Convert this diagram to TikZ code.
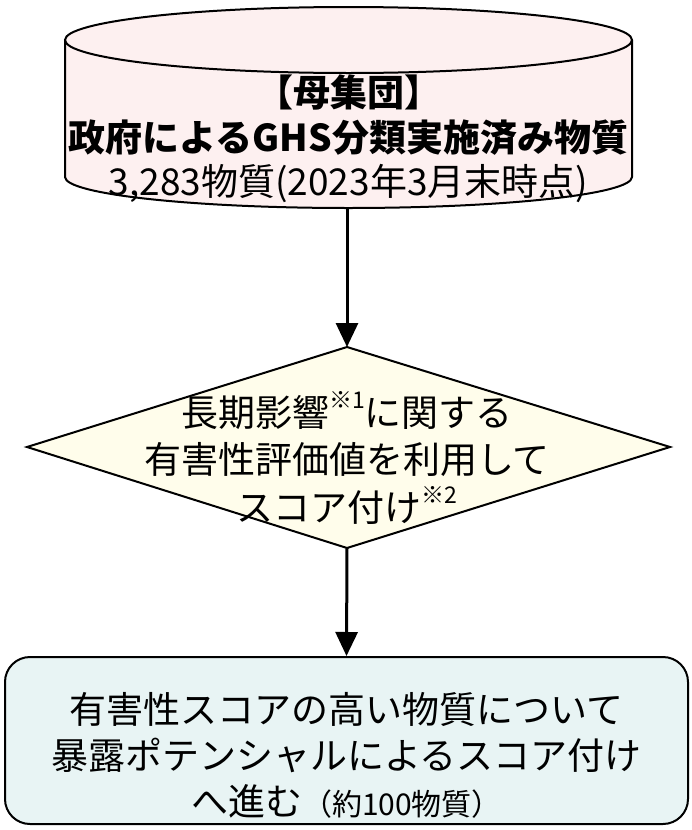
\documentclass[tikz,border=0pt]{standalone}
\usepackage{fontspec}
\setmainfont{Noto Sans CJK JP}
\usetikzlibrary{arrows.meta}
\definecolor{cylfill}{HTML}{FDF0F0}
\definecolor{diafill}{HTML}{FFFDEB}
\definecolor{boxfill}{HTML}{E8F4F4}
\newcommand{\supnote}[1]{\raisebox{0.85ex}{\fontsize{23}{23}\selectfont #1}}
\begin{document}
\begin{tikzpicture}[x=1pt,y=1pt,
  shapeline/.style={draw=black,line width=2pt},
  arr/.style={line width=3pt,-{Triangle[width=22pt,length=24pt]}},
  txt/.style={align=center,inner sep=0pt}]
\useasboundingbox (0,0) rectangle (691,-830);
% cylinder
\fill[cylfill] (65,-40) -- (65,-177) arc[start angle=180,end angle=360,x radius=283.5,y radius=31] -- (632,-40) -- cycle;
\draw[shapeline] (65,-40) -- (65,-177) arc[start angle=180,end angle=360,x radius=283.5,y radius=31] -- (632,-40);
\draw[shapeline,fill=cylfill] (348.5,-40) ellipse[x radius=283.5,y radius=33];
\coordinate (cylbot) at (347,-208);
\node[txt,font=\fontsize{37}{44.5}\selectfont] (cyltext) at (348.5,-139)
  {\textbf{【母集団】}\\\textbf{政府によるGHS分類実施済み物質}\\3,283物質(2023年3月末時点)};
% diamond
\coordinate (dtop) at (347,-347);
\coordinate (dleft) at (27,-447);
\coordinate (dright) at (670,-447);
\coordinate (dbot) at (347,-548);
\draw[shapeline,fill=diafill] (dtop) -- (dright) -- (dbot) -- (dleft) -- cycle;
\node[txt,font=\fontsize{37}{47.5}\selectfont] (dtext) at (347,-458)
  {長期影響\supnote{※1}に関する\\有害性評価値を利用して\\スコア付け\supnote{※2}};
% box
\node[shapeline,fill=boxfill,rounded corners=25pt,minimum width=683pt,minimum height=167pt,inner sep=0pt] (box) at (346.5,-740.5) {};
\node[txt,font=\fontsize{37}{46}\selectfont] (boxtext) at (346.5,-755)
  {有害性スコアの高い物質について\\暴露ポテンシャルによるスコア付け\\へ進む{\fontsize{30}{30}\selectfont （約100物質）}};
% arrows
\draw[arr] (cylbot) -- (dtop);
\draw[arr] (dbot) -- (box.north);
\end{tikzpicture}
\end{document}
